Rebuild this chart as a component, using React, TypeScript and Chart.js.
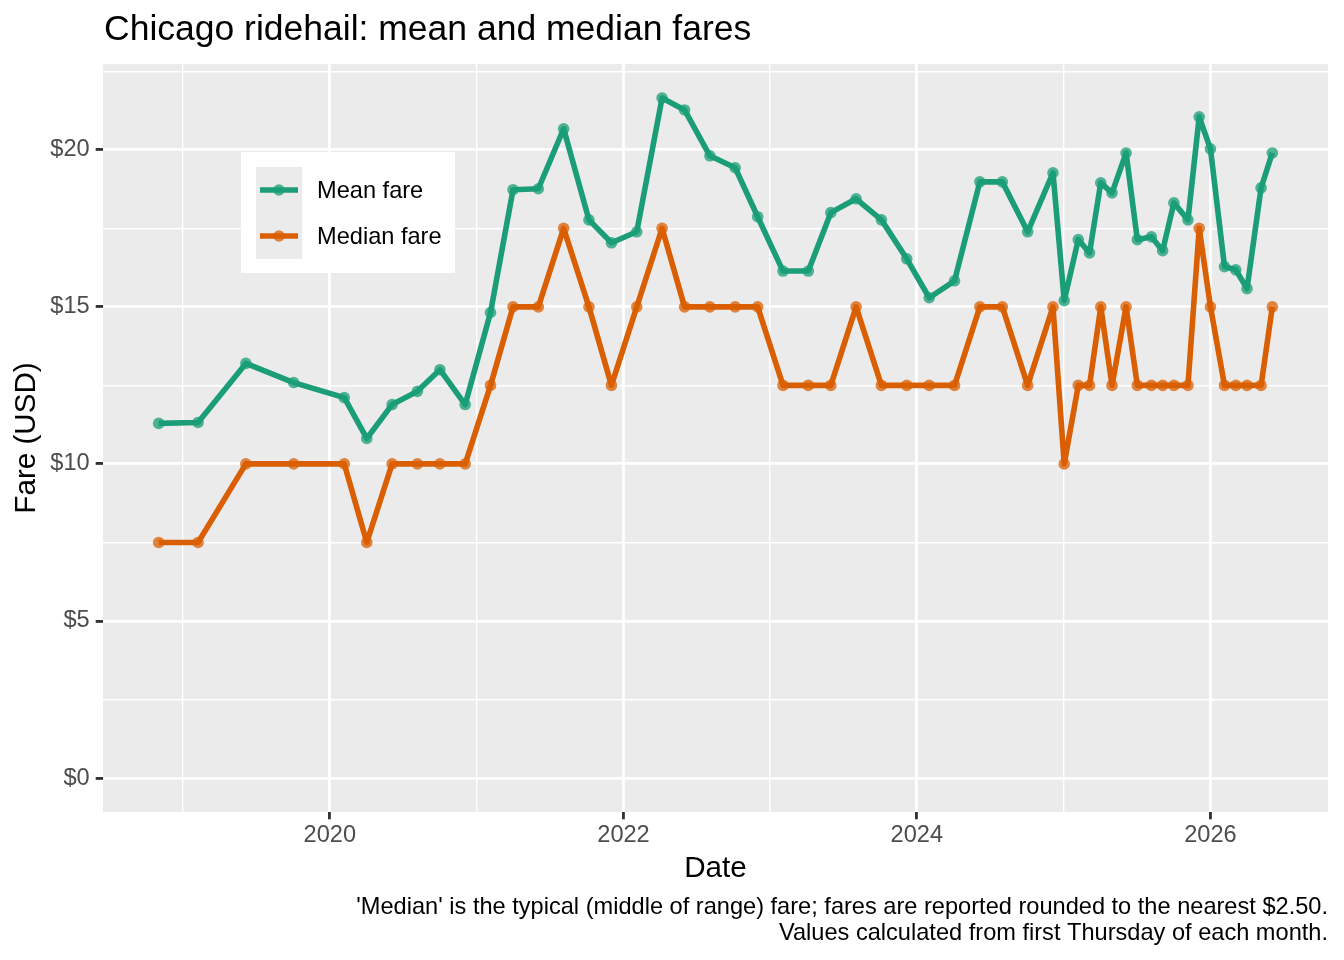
import React, { useEffect, useRef } from "react";
import { Chart, registerables } from "chart.js";

Chart.register(...registerables);

// ---------- data ----------
const dates = [
  "2018-11-01", "2019-02-07", "2019-06-06", "2019-10-03", "2020-02-06", "2020-04-02",
  "2020-06-04", "2020-08-06", "2020-10-01", "2020-12-03", "2021-02-04", "2021-04-01",
  "2021-06-03", "2021-08-05", "2021-10-07", "2021-12-02", "2022-02-03", "2022-04-07",
  "2022-06-02", "2022-08-04", "2022-10-06", "2022-12-01", "2023-02-02", "2023-04-06",
  "2023-06-01", "2023-08-03", "2023-10-05", "2023-12-07", "2024-02-01", "2024-04-04",
  "2024-06-06", "2024-08-01", "2024-10-03", "2024-12-05", "2025-01-02", "2025-02-06",
  "2025-03-06", "2025-04-03", "2025-05-01", "2025-06-05", "2025-07-03", "2025-08-07",
  "2025-09-04", "2025-10-02", "2025-11-06", "2025-12-04", "2026-01-01", "2026-02-05",
  "2026-03-05", "2026-04-02", "2026-05-07", "2026-06-04",
];

const meanFare = [
  11.29, 11.32, 13.2, 12.59, 12.11, 10.81, 11.89, 12.31, 13.0, 11.89,
  14.82, 18.73, 18.76, 20.67, 17.77, 17.04, 17.39, 21.65, 21.27, 19.81,
  19.43, 17.87, 16.14, 16.14, 18.0, 18.44, 17.77, 16.53, 15.29, 15.83,
  18.98, 18.98, 17.39, 19.27, 15.2, 17.14, 16.72, 18.95, 18.63, 19.9,
  17.14, 17.23, 16.79, 18.31, 17.77, 21.05, 20.03, 16.28, 16.18, 15.58,
  18.79, 19.9,
];

const medianFare = [
  7.5, 7.5, 10, 10, 10, 7.5, 10, 10, 10, 10,
  12.5, 15, 15, 17.5, 15, 12.5, 15, 17.5, 15, 15,
  15, 15, 12.5, 12.5, 12.5, 15, 12.5, 12.5, 12.5, 12.5,
  15, 15, 12.5, 15, 10, 12.5, 12.5, 15, 12.5, 15,
  12.5, 12.5, 12.5, 12.5, 12.5, 17.5, 15, 12.5, 12.5, 12.5,
  12.5, 15,
];

const seriesNames = ["Mean fare", "Median fare"];
const yTickValues = [0, 2.5, 5, 7.5, 10, 12.5, 15, 17.5, 20, 22.5];
const yLabelledValues = [0, 5, 10, 15, 20];
const xTickYears = [2019, 2020, 2021, 2022, 2023, 2024, 2025, 2026];
const xLabelledYears = [2020, 2022, 2024, 2026];

const titleText = "Chicago ridehail: mean and median fares";
const xTitle = "Date";
const yTitle = "Fare (USD)";
const captionLines = [
  "'Median' is the typical (middle of range) fare; fares are reported rounded to the nearest $2.50.",
  "Values calculated from first Thursday of each month.",
];

// ---------- styling ----------
const GREEN = "#1B9E77";
const ORANGE = "#D95F02";
const GREEN_PT = "rgba(27,158,119,0.75)";
const ORANGE_PT = "rgba(217,95,2,0.75)";
const FONT = "'Liberation Sans', Arial, Helvetica, sans-serif";
const LINE_W = 5.6;
const PT_R = 5.8;
const SMALL = 23.6;

function dayNum(s: string): number {
  const [y, m, d] = s.split("-").map(Number);
  return Date.UTC(y, m - 1, d) / 86400000;
}
function yearDay(y: number): number {
  return Date.UTC(y, 0, 1) / 86400000;
}

const decorPlugin = {
  id: "decor",
  beforeDraw(chart: any) {
    const { ctx, chartArea } = chart;
    ctx.save();
    ctx.fillStyle = "#FFFFFF";
    ctx.fillRect(0, 0, chart.width, chart.height);
    ctx.fillStyle = "#EBEBEB";
    ctx.fillRect(chartArea.left, chartArea.top, chartArea.right - chartArea.left, chartArea.bottom - chartArea.top);
    ctx.restore();
  },
  afterDraw(chart: any) {
    const { ctx, chartArea } = chart;
    ctx.save();
    // title
    ctx.fillStyle = "#000000";
    ctx.textAlign = "left";
    ctx.textBaseline = "alphabetic";
    ctx.font = `35.5px ${FONT}`;
    ctx.fillText(titleText, 104, 40);

    // axis titles
    ctx.font = `29.6px ${FONT}`;
    ctx.textAlign = "center";
    ctx.fillText(xTitle, (chartArea.left + chartArea.right) / 2, 877);
    ctx.save();
    ctx.translate(35, (chartArea.top + chartArea.bottom) / 2);
    ctx.rotate(-Math.PI / 2);
    ctx.fillText(yTitle, 0, 0);
    ctx.restore();

    // caption
    ctx.font = `${SMALL}px ${FONT}`;
    ctx.textAlign = "right";
    ctx.fillText(captionLines[0], 1328, 914);
    ctx.fillText(captionLines[1], 1328, 940);

    // legend
    ctx.fillStyle = "#FFFFFF";
    ctx.fillRect(241, 152, 214, 121);
    ctx.fillStyle = "#EBEBEB";
    ctx.fillRect(256, 167, 46, 92);
    const cols = [GREEN, ORANGE];
    const ptCols = [GREEN_PT, ORANGE_PT];
    const ys = [190, 236];
    for (let i = 0; i < 2; i++) {
      ctx.strokeStyle = cols[i];
      ctx.lineWidth = LINE_W;
      ctx.lineCap = "butt";
      ctx.beginPath();
      ctx.moveTo(260, ys[i]);
      ctx.lineTo(298, ys[i]);
      ctx.stroke();
      ctx.fillStyle = ptCols[i];
      ctx.beginPath();
      ctx.arc(279, ys[i], PT_R, 0, Math.PI * 2);
      ctx.fill();
      ctx.fillStyle = "#000000";
      ctx.textAlign = "left";
      ctx.textBaseline = "alphabetic";
      ctx.font = `${SMALL}px ${FONT}`;
      ctx.fillText(seriesNames[i], 317, ys[i] + 8);
    }
    ctx.restore();
  },
};

export default function App() {
  const canvasRef = useRef<HTMLCanvasElement | null>(null);

  useEffect(() => {
    const canvas = canvasRef.current;
    if (!canvas) return;
    const xs = dates.map(dayNum);
    const x0 = Math.min(...xs);
    const x1 = Math.max(...xs);
    const xSpan = x1 - x0;
    const yLo = Math.min(0, ...meanFare, ...medianFare);
    const yHi = Math.max(...meanFare, ...medianFare);
    const ySpan = yHi - yLo;

    const isMajorX = (v: number) => {
      const yr = new Date(v * 86400000).getUTCFullYear();
      return xLabelledYears.includes(yr);
    };
    const isMajorY = (v: number) => yLabelledValues.some((t) => Math.abs(t - v) < 1e-6);

    const chart = new Chart(canvas, {
      type: "line",
      data: {
        datasets: [
          {
            label: seriesNames[0],
            data: xs.map((x, i) => ({ x, y: meanFare[i] })),
            borderColor: GREEN,
            borderWidth: LINE_W,
            borderJoinStyle: "round",
            borderCapStyle: "butt",
            pointRadius: PT_R,
            pointBackgroundColor: GREEN_PT,
            pointBorderWidth: 0,
            pointBorderColor: GREEN_PT,
            tension: 0,
          },
          {
            label: seriesNames[1],
            data: xs.map((x, i) => ({ x, y: medianFare[i] })),
            borderColor: ORANGE,
            borderWidth: LINE_W,
            borderJoinStyle: "round",
            borderCapStyle: "butt",
            pointRadius: PT_R,
            pointBackgroundColor: ORANGE_PT,
            pointBorderWidth: 0,
            pointBorderColor: ORANGE_PT,
            tension: 0,
          },
        ],
      },
      options: {
        responsive: false,
        maintainAspectRatio: false,
        animation: false,
        layout: { padding: { left: 0, top: 64, right: 16, bottom: 0 } },
        plugins: {
          legend: { display: false },
          tooltip: { enabled: false },
          title: { display: false },
        },
        scales: {
          x: {
            type: "linear",
            position: "bottom",
            min: x0 - 0.05 * xSpan,
            max: x1 + 0.05 * xSpan,
            afterBuildTicks: (axis: any) => {
              axis.ticks = xTickYears.map((y) => ({ value: yearDay(y) }));
            },
            afterFit: (axis: any) => {
              axis.height = 148;
            },
            ticks: {
              autoSkip: false,
              maxRotation: 0,
              minRotation: 0,
              padding: 2,
              color: "#4D4D4D",
              font: { family: FONT, size: SMALL },
              callback: (v: any) => {
                const yr = new Date(Number(v) * 86400000).getUTCFullYear();
                return xLabelledYears.includes(yr) ? String(yr) : "";
              },
            },
            grid: {
              color: "#FFFFFF",
              lineWidth: (c: any) => (c.tick && isMajorX(c.tick.value) ? 2.85 : 1.42),
              drawTicks: true,
              tickLength: 7.3,
              tickWidth: 2.85,
              tickColor: (c: any) => (c.tick && isMajorX(c.tick.value) ? "#333333" : "rgba(0,0,0,0)"),
            },
            border: { display: false },
          },
          y: {
            type: "linear",
            position: "left",
            min: yLo - 0.05 * ySpan,
            max: yHi + 0.05 * ySpan,
            afterBuildTicks: (axis: any) => {
              axis.ticks = yTickValues.map((v) => ({ value: v }));
            },
            afterFit: (axis: any) => {
              axis.width = 103;
            },
            ticks: {
              autoSkip: false,
              padding: 6,
              color: "#4D4D4D",
              font: { family: FONT, size: SMALL },
              callback: (v: any) => (isMajorY(Number(v)) ? "$" + Number(v) : ""),
            },
            grid: {
              color: "#FFFFFF",
              lineWidth: (c: any) => (c.tick && isMajorY(c.tick.value) ? 2.85 : 1.42),
              drawTicks: true,
              tickLength: 7.3,
              tickWidth: 2.85,
              tickColor: (c: any) => (c.tick && isMajorY(c.tick.value) ? "#333333" : "rgba(0,0,0,0)"),
            },
            border: { display: false },
          },
        },
      },
      plugins: [decorPlugin],
    } as any);

    return () => {
      chart.destroy();
    };
  }, []);

  return (
    <div style={{ position: "absolute", left: 0, top: 0, width: 1344, height: 960, background: "#FFFFFF" }}>
      <canvas ref={canvasRef} width={1344} height={960} style={{ display: "block", width: 1344, height: 960 }} />
    </div>
  );
}
